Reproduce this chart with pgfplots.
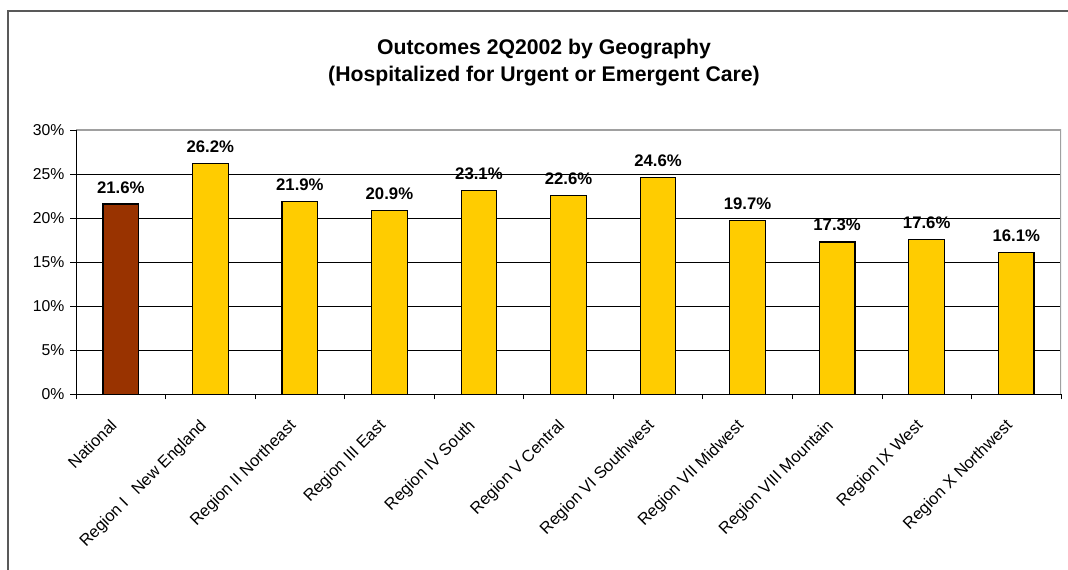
\documentclass[border=0pt]{standalone}
\usepackage{pgfplots}
\pgfplotsset{compat=1.18}
\usepackage{fontspec}
\setmainfont{Liberation Sans}
\definecolor{natbrown}{HTML}{993300}
\definecolor{regyellow}{HTML}{FFCC00}
\definecolor{framegray}{HTML}{595959}
\definecolor{plotgray}{HTML}{A0A0A0}

\begin{document}
\begin{tikzpicture}[x=1bp,y=1bp]
\useasboundingbox (0,0) rectangle (1068,570);
% chart frame
\draw[framegray, line width=1.5bp] (8,-5) -- (8,559) -- (1075,559);
% title
\node[font=\fontsize{21.3}{25}\selectfont\bfseries, anchor=base] at (544,515) {Outcomes 2Q2002 by Geography};
\node[font=\fontsize{21.3}{25}\selectfont\bfseries, anchor=base] at (544,488.3) {(Hospitalized for Urgent or Emergent Care)};
\begin{axis}[
  at={(76bp,175.5bp)}, anchor=south west,
  scale only axis, width=985bp, height=264.5bp,
  xmin=-0.5, xmax=10.5, ymin=0, ymax=30,
  axis line style={draw=none},
  /pgf/number format/assume math mode=true,
  ytick={0,5,...,30},
  yticklabels={0\%,5\%,10\%,15\%,20\%,25\%,30\%},
  ymajorgrids, grid style={black, line width=0.8bp},
  xtick={0,...,10},
  xticklabels={National, Region I\hspace{0.75em}New England, Region II Northeast, Region III East, Region IV South, Region V Central, Region VI Southwest, Region VII Midwest, Region VIII Mountain, Region IX West, Region X Northwest},
  minor xtick={-0.5,0.5,...,10.5},
  tick pos=left,
  tick align=outside,
  major x tick style={draw=none},
  minor tick length=5bp, major tick length=6bp,
  tick style={black, line width=0.8bp},
  yticklabel style={font=\fontsize{15.8}{18}\selectfont, xshift=-2bp},
  xticklabel style={font=\fontsize{16.5}{19}\selectfont, anchor=base east, inner sep=0pt, xshift=-3bp, yshift=-26bp, rotate=45},
  ybar, bar width=35.6bp, bar shift=0pt,
  nodes near coords={\pgfmathprintnumber[fixed,fixed zerofill,precision=1]{\pgfplotspointmeta}\%},
  every node near coord/.append style={font=\fontsize{16.8}{20}\selectfont\bfseries, anchor=base, yshift=11bp, black},
]
\addplot[fill=natbrown, draw=black, line width=1.2bp] coordinates {(0,21.6)};
\addplot[fill=regyellow, draw=black, line width=1.2bp] coordinates {
  (1,26.2) (2,21.9) (3,20.9) (4,23.1) (5,22.6) (6,24.6)
  (7,19.7) (8,17.3) (9,17.6) (10,16.1)};
% plot area border: grey top and right, black left and bottom
\draw[plotgray, line width=1.2bp] (rel axis cs:0,1) -- (rel axis cs:1,1) -- (rel axis cs:1,0);
\draw[black, line width=1bp] (rel axis cs:0,1) -- (rel axis cs:0,0) -- (rel axis cs:1,0);
\end{axis}
\end{tikzpicture}
\end{document}
